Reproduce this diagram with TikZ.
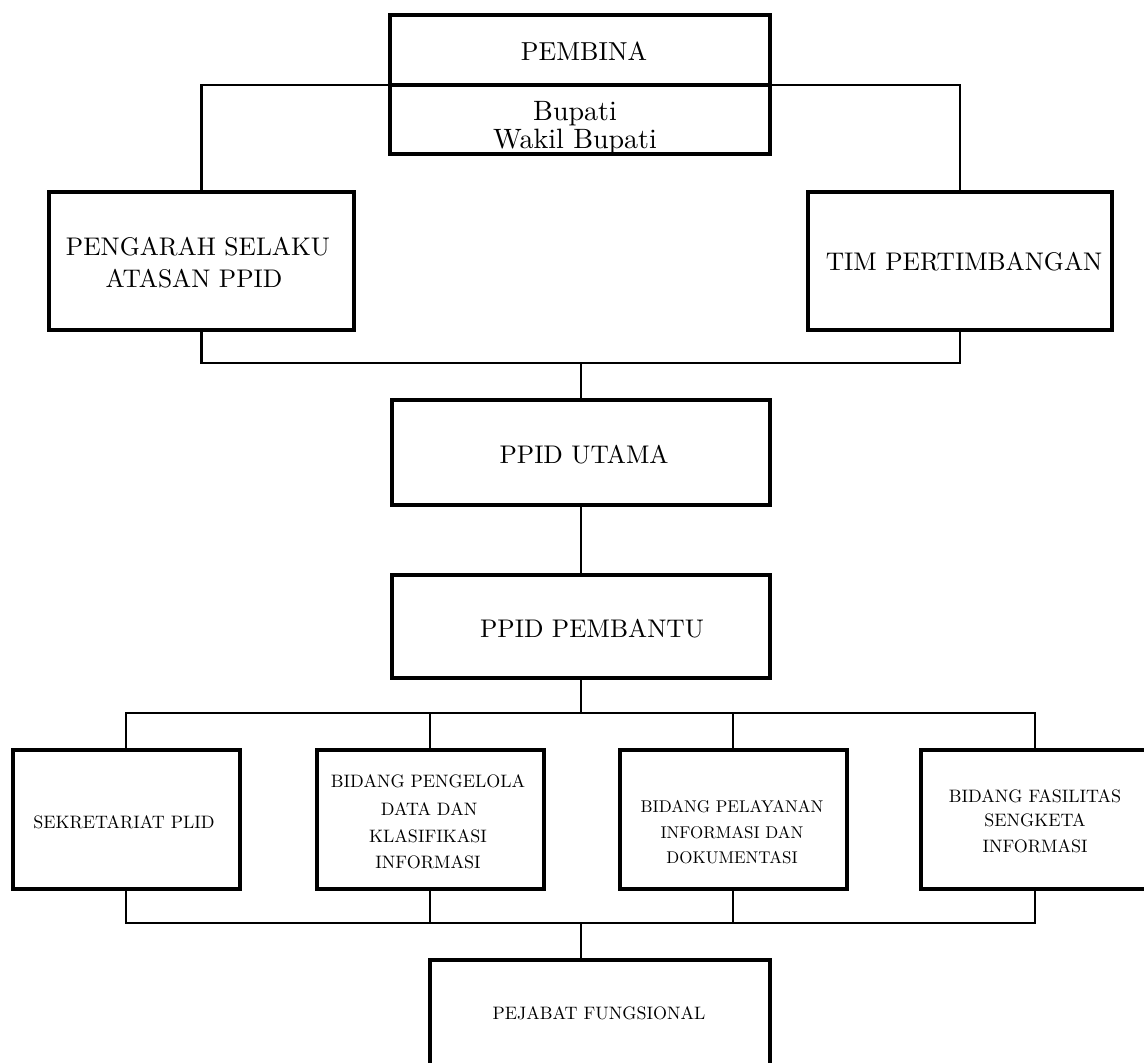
\documentclass[tikz,border=0pt]{standalone}
\usepackage{fontspec}
\setmainfont{lmroman10-regular.otf}[BoldFont=lmroman10-bold.otf]
\usetikzlibrary{backgrounds}
\newcommand\fsTop{\fontsize{26}{30}\selectfont}
\newcommand\fsBup{\fontsize{28}{32}\selectfont}
\newcommand\fsMid{\fontsize{25.5}{31}\selectfont}
\newcommand\fsLow{\fontsize{18}{22}\selectfont}
\newcommand\fsLowB{\fontsize{17}{22}\selectfont}
\begin{document}
\begin{tikzpicture}[x=1pt,y=-1pt,
  box/.style={draw=black, line width=4pt, fill=white, inner sep=0pt, outer sep=0pt},
  conn/.style={draw=black, line width=2.7pt},
  lbl/.style={anchor=base, inner sep=0pt, outer sep=0pt}]
\path[use as bounding box] (0,0) rectangle (1144,1063);
\clip (0,0) rectangle (1144,1063);
% boxes
\node[box, minimum width=380, minimum height=70] (pembina) at (580,50) {};
\node[box, minimum width=380, minimum height=69] (bupati) at (580,119.5) {};
\node[box, minimum width=305, minimum height=138] (pengarah) at (201.5,261) {};
\node[box, minimum width=304, minimum height=138] (tim) at (960,261) {};
\node[box, minimum width=378, minimum height=105] (utama) at (581,452.5) {};
\node[box, minimum width=378, minimum height=103] (pembantu) at (581,626.5) {};
\node[box, minimum width=227, minimum height=139] (b1) at (126,819.5) {};
\node[box, minimum width=227, minimum height=139] (b2) at (430,819.5) {};
\node[box, minimum width=227, minimum height=139] (b3) at (733,819.5) {};
\node[box, minimum width=228, minimum height=139] (b4) at (1035,819.5) {};
\node[box, minimum width=340, minimum height=130] (pejabat) at (600,1025) {};
% texts
\node[lbl, font=\fsTop] (tpembina) at (584,60) {PEMBINA};
\node[lbl, font=\fsBup] (tbupati) at (575,120) {Bupati};
\node[lbl, font=\fsBup] (twakil) at (575,148) {Wakil Bupati};
\node[lbl, font=\fsMid] (tpeng1) at (198,255) {PENGARAH SELAKU};
\node[lbl, font=\fsMid] (tpeng2) at (194,287) {ATASAN PPID};
\node[lbl, font=\fsMid] (ttim) at (964,270) {TIM PERTIMBANGAN};
\node[lbl, font=\fsMid] (tutama) at (584,463) {PPID UTAMA};
\node[lbl, font=\fsMid] (tpembantu) at (592,637) {PPID PEMBANTU};
\node[lbl, font=\fsLow] (tb1) at (124,828) {SEKRETARIAT PLID};
\node[lbl, font=\fsLow] (tb2a) at (428,787) {BIDANG PENGELOLA};
\node[lbl, font=\fsLow] (tb2b) at (429,815) {DATA DAN};
\node[lbl, font=\fsLow] (tb2c) at (428,842) {KLASIFIKASI};
\node[lbl, font=\fsLow] (tb2d) at (428,868) {INFORMASI};
\node[lbl, font=\fsLowB] (tb3a) at (732,812) {BIDANG PELAYANAN};
\node[lbl, font=\fsLowB] (tb3b) at (732,838) {INFORMASI DAN};
\node[lbl, font=\fsLowB] (tb3c) at (732,863) {DOKUMENTASI};
\node[lbl, font=\fsLow] (tb4a) at (1035,802) {BIDANG FASILITAS};
\node[lbl, font=\fsLow] (tb4b) at (1035,826) {SENGKETA};
\node[lbl, font=\fsLow] (tb4c) at (1035,852) {INFORMASI};
\node[lbl, font=\fsLow] (tpejabat) at (599,1019) {PEJABAT FUNGSIONAL};
% connectors
\coordinate (j1) at (581,363);
\coordinate (j2) at (581,713);
\coordinate (j3) at (581,923);
\begin{pgfonlayer}{background}
\fill[white] (0,0) rectangle (1144,1063);
\draw[conn] (pengarah.north) |- (pembina.south) -| (tim.north);
\draw[conn] (pengarah.south) |- (j1) -| (tim.south);
\draw[conn] (j1) -- (utama.north);
\draw[conn] (utama.south) -- (pembantu.north);
\draw[conn] (pembantu.south) -- (j2);
\draw[conn] (b1.north) |- (j2) -| (b4.north);
\draw[conn] (b2.north) |- (j2);
\draw[conn] (b3.north) |- (j2);
\draw[conn] (b1.south) |- (j3) -| (b4.south);
\draw[conn] (b2.south) |- (j3);
\draw[conn] (b3.south) |- (j3);
\draw[conn] (j3) -- (j3 |- pejabat.north);
\end{pgfonlayer}
\end{tikzpicture}
\end{document}
